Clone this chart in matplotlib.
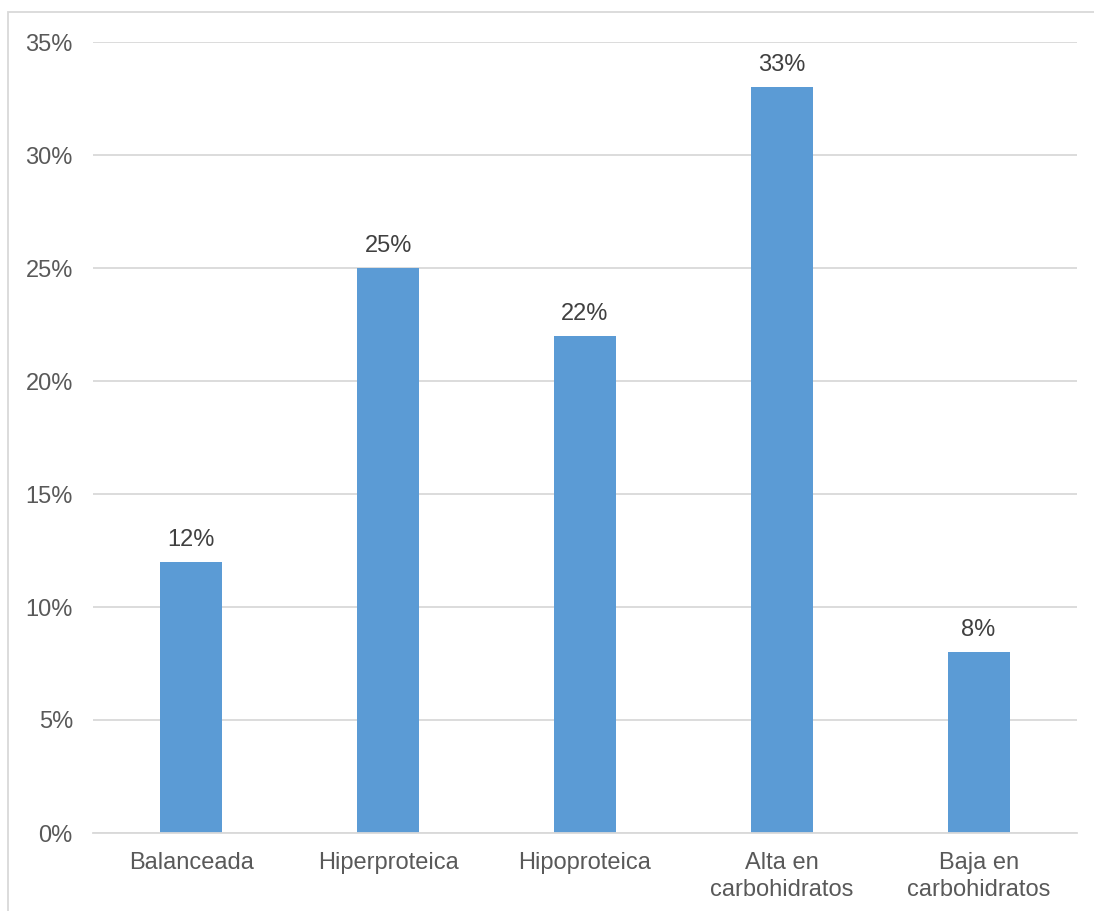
import matplotlib
matplotlib.use("Agg")
import matplotlib.pyplot as plt
from matplotlib.patches import Rectangle

categories = ["Balanceada", "Hiperproteica", "Hipoproteica", "Alta en\ncarbohidratos", "Baja en\ncarbohidratos"]
values = [12, 25, 22, 33, 8]
y_ticks = [0, 5, 10, 15, 20, 25, 30, 35]

bar_color = "#5B9BD5"
text_color = "#595959"
grid_color = "#D9D9D9"

plt.rcParams["font.family"] = ["Liberation Sans", "DejaVu Sans"]

fig = plt.figure(figsize=(10.94, 9.11), dpi=100)
ax = fig.add_axes([93 / 1094, 1 - 833 / 911, (1077 - 93) / 1094, (833 - 42) / 911])

x = list(range(len(categories)))
bars = ax.bar(x, values, width=0.315, color=bar_color, zorder=3)

for xi, v in zip(x, values):
    ax.annotate(f"{v}%", (xi, v), xytext=(0, 8), textcoords="offset points",
                ha="center", va="bottom", fontsize=17, color="#404040")

ax.set_xlim(-0.5, len(categories) - 0.5)
ax.set_ylim(0, 35)
ax.set_yticks(y_ticks)
ax.set_yticklabels([f"{t}%" for t in y_ticks])
ax.set_xticks(x)
ax.set_xticklabels(categories, linespacing=1.25)

ax.tick_params(axis="both", length=0, labelsize=17, labelcolor=text_color)
ax.tick_params(axis="y", pad=14.5)
ax.tick_params(axis="x", pad=14)

ax.yaxis.grid(True, color=grid_color, linewidth=1.3, zorder=0)
for side in ["left", "right", "top"]:
    ax.spines[side].set_visible(False)
ax.spines["bottom"].set_color(grid_color)
ax.spines["bottom"].set_linewidth(1.3)
ax.spines["bottom"].set_zorder(4)

# light frame around the chart area
fig.patches.append(Rectangle((8 / 1094, -0.05), 1.2, 1 - 12 / 911 + 0.05,
                             transform=fig.transFigure, fill=False,
                             edgecolor="#D9D9D9", linewidth=1.3))

fig.savefig("out.png", dpi=100)
